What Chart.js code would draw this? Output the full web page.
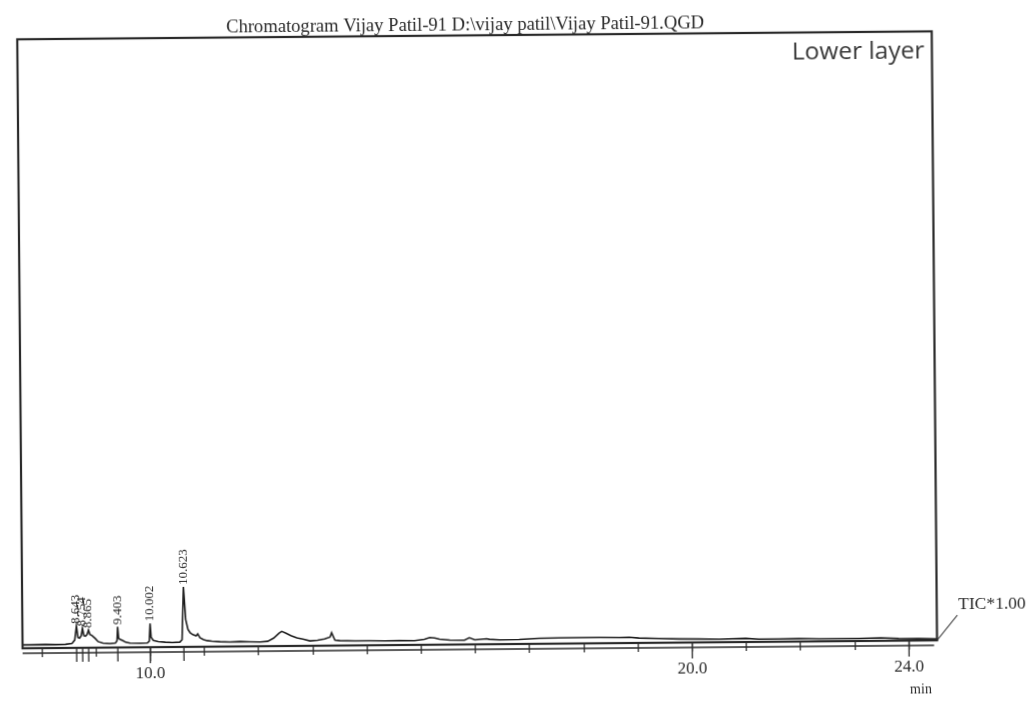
<!DOCTYPE html>
<html>
<head>
<meta charset="utf-8">
<title>Chromatogram Vijay Patil-91</title>
<script src="https://cdn.jsdelivr.net/npm/chart.js@4.4.1/dist/chart.umd.min.js"></script>
<style>
  html, body { margin: 0; padding: 0; background: #fff; overflow: hidden; }
  #sheet {
    position: absolute; left: 0; top: 0; width: 1031px; height: 702px;
    transform: rotate(-0.5deg); transform-origin: 50% 50%;
  }
  canvas { display: block; }
</style>
</head>
<body>
<div id="sheet"><canvas id="tic" width="1031" height="702"></canvas></div>
<script>
// Retention time (min) and total ion current (relative units)
const retentionTime = [
  7.65, 7.79, 8.07, 8.25, 8.44, 8.56, 8.61, 8.643, 8.67, 8.70,
  8.73, 8.754, 8.78, 8.81, 8.84, 8.865, 8.89, 8.93, 8.99, 9.04,
  9.13, 9.26, 9.36, 9.39, 9.403, 9.42, 9.45, 9.50, 9.55, 9.63,
  9.82, 9.95, 9.985, 10.002, 10.02, 10.06, 10.15, 10.28, 10.41, 10.55,
  10.59, 10.623, 10.66, 10.70, 10.74, 10.79, 10.85, 10.88, 10.92, 10.98,
  11.05, 11.14, 11.29, 11.47, 11.66, 11.84, 12.03, 12.17, 12.28, 12.38,
  12.43, 12.51, 12.60, 12.71, 12.82, 12.95, 13.09, 13.22, 13.32, 13.35,
  13.41, 13.50, 13.78, 14.05, 14.33, 14.60, 14.88, 15.06, 15.16, 15.25,
  15.34, 15.53, 15.80, 15.89, 15.99, 16.21, 16.26, 16.45, 16.81, 17.18,
  17.55, 17.92, 18.29, 18.66, 18.84, 19.02, 19.39, 19.76, 20.13, 20.50,
  20.99, 21.23, 21.60, 21.97, 22.34, 22.71, 23.08, 23.48, 23.81, 24.18,
  24.51
];
const tic = [
  0.55, 0.55, 0.6, 0.55, 0.6, 0.75, 1.3, 3.6, 1.7, 1.6,
  2.0, 3.2, 2.0, 1.9, 2.2, 2.9, 2.2, 2.0, 1.5, 1.0,
  0.75, 0.65, 0.75, 1.1, 3.4, 1.5, 1.3, 1.1, 0.85, 0.7,
  0.65, 0.7, 1.0, 3.9, 1.6, 1.1, 0.9, 0.8, 0.75, 0.8,
  1.2, 9.85, 4.5, 2.9, 2.3, 2.0, 1.8, 2.1, 1.5, 1.2,
  1.0, 0.9, 0.8, 0.75, 0.8, 0.75, 0.7, 0.8, 1.3, 2.1,
  2.4, 2.1, 1.7, 1.3, 1.1, 0.8, 0.9, 1.1, 1.4, 2.1,
  0.9, 0.8, 0.75, 0.75, 0.7, 0.75, 0.7, 0.9, 1.2, 1.1,
  0.9, 0.75, 0.7, 1.1, 0.75, 0.9, 0.8, 0.7, 0.75, 0.9,
  0.95, 0.95, 0.95, 0.9, 0.95, 0.8, 0.7, 0.6, 0.55, 0.5,
  0.6, 0.45, 0.45, 0.5, 0.4, 0.4, 0.4, 0.5, 0.35, 0.3,
  0.25
];
// Integrated peaks (retention times, min)
const peakTimes = [8.643, 8.754, 8.865, 9.403, 10.002, 10.623];
// Axis ticks every minute, numbered at a few of them
const minuteTicks = [8, 9, 10, 11, 12, 13, 14, 15, 16, 17, 18, 19, 20, 21, 22, 23, 24];
const labelledMinutes = [10, 20, 24];

const titleText = 'Chromatogram Vijay Patil-91 D:\\vijay patil\\Vijay Patil-91.QGD';
const sampleText = 'Lower layer';
const traceText = 'TIC*1.00';
const unitText = 'min';

const serif = '"Liberation Serif", "Times New Roman", serif';

const overlay = {
  id: 'overlay',
  beforeDraw(chart) {
    const ctx = chart.ctx;
    ctx.save();
    ctx.fillStyle = '#fff';
    ctx.fillRect(0, 0, chart.width, chart.height);
    ctx.restore();
  },
  afterDraw(chart) {
    const { ctx, chartArea: a, scales: { x, y } } = chart;
    const seg = (x1, y1, x2, y2) => { ctx.beginPath(); ctx.moveTo(x1, y1); ctx.lineTo(x2, y2); ctx.stroke(); };
    ctx.save();
    ctx.strokeStyle = '#2a2a2a';
    ctx.fillStyle = '#2a2a2a';

    // plot frame
    ctx.lineWidth = 2.2;
    ctx.strokeRect(a.left, a.top, a.right - a.left, a.bottom - a.top);

    // time axis rule under the frame
    ctx.lineWidth = 1.4;
    seg(a.left, a.bottom + 5, a.right - 3, a.bottom + 5);

    // longer ticks at the numbered minutes
    ctx.lineWidth = 1.3;
    labelledMinutes.forEach(m => {
      const px = x.getPixelForValue(m);
      seg(px, a.bottom, px, a.bottom + 16);
    });

    // peak markers below the frame
    peakTimes.forEach(t => {
      const px = x.getPixelForValue(t);
      seg(px, a.bottom, px, a.bottom + 14);
    });

    // retention-time labels above each peak
    ctx.font = '13px ' + serif;
    ctx.textAlign = 'left';
    ctx.textBaseline = 'middle';
    peakTimes.forEach(t => {
      const i = retentionTime.indexOf(t);
      const px = x.getPixelForValue(t);
      const py = y.getPixelForValue(tic[i]);
      ctx.save();
      ctx.translate(px, py - 2);
      ctx.rotate(-Math.PI / 2);
      ctx.fillText(t.toFixed(3), 0, 0);
      ctx.restore();
    });

    // heading
    ctx.font = '18.6px ' + serif;
    ctx.textAlign = 'center';
    ctx.textBaseline = 'middle';
    ctx.fillText(titleText, 468, 25);

    // sample name in the top-right corner
    ctx.font = '24.5px "Open Sans", sans-serif';
    ctx.fillStyle = '#383838';
    ctx.textAlign = 'right';
    ctx.textBaseline = 'alphabetic';
    ctx.fillText(sampleText, 927, 62);

    // trace name with leader line
    ctx.fillStyle = '#2a2a2a';
    ctx.lineWidth = 1.1;
    seg(a.right, a.bottom, 955, 619);
    ctx.font = '17.5px ' + serif;
    ctx.textAlign = 'left';
    ctx.textBaseline = 'middle';
    ctx.fillText(traceText, 956, 608);

    // time unit
    ctx.font = '14px ' + serif;
    ctx.textAlign = 'center';
    ctx.fillText(unitText, 918, 693);

    ctx.restore();
  }
};

new Chart(document.getElementById('tic'), {
  type: 'line',
  data: {
    datasets: [{
      data: retentionTime.map((t, i) => ({ x: t, y: tic[i] })),
      borderColor: '#1f1f1f',
      borderWidth: 1.6,
      pointRadius: 0,
      tension: 0,
      fill: false
    }]
  },
  options: {
    responsive: false,
    animation: false,
    devicePixelRatio: 1,
    layout: { padding: { left: 20, right: 96.5, top: 35, bottom: 0 } },
    plugins: { legend: { display: false }, tooltip: { enabled: false }, title: { display: false } },
    scales: {
      x: {
        type: 'linear',
        min: 7.646,
        max: 24.518,
        afterBuildTicks: s => { s.ticks = minuteTicks.map(v => ({ value: v })); },
        afterFit: s => { s.height = 58; },
        border: { display: false },
        grid: { drawOnChartArea: false, drawTicks: true, tickLength: 9, color: '#333', lineWidth: 1.3 },
        ticks: {
          autoSkip: false,
          maxRotation: 0,
          padding: 7,
          color: '#2a2a2a',
          font: { family: serif, size: 17 },
          callback: v => labelledMinutes.includes(v) ? v.toFixed(1) : ''
        }
      },
      y: { display: false, min: 0, max: 100 }
    }
  },
  plugins: [overlay]
});
</script>
</body>
</html>
